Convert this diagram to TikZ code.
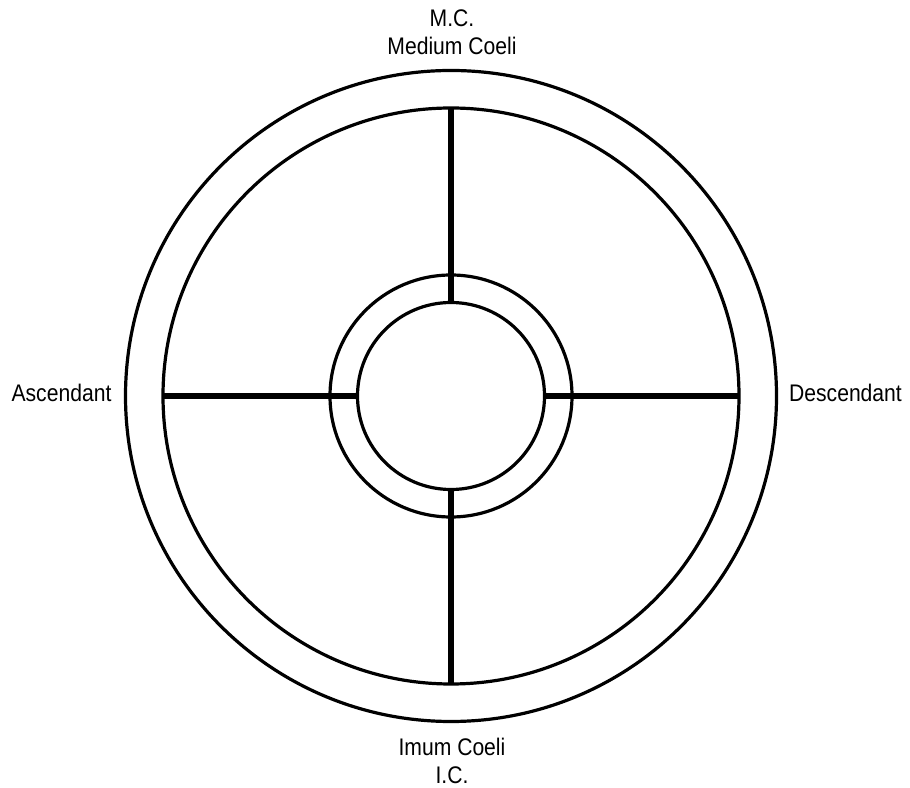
\documentclass[tikz,border=0pt]{standalone}
\usepackage{fontspec}
\setmainfont{Liberation Sans}[FakeStretch=0.88]
\usetikzlibrary{calc}
\begin{document}
\begin{tikzpicture}[x=1pt,y=1pt,
  ring/.style={line width=3.2pt},
  spoke/.style={line width=5.5pt},
  lbl/.style={anchor=base,inner sep=0pt,font=\fontsize{24}{28}\selectfont}]
\useasboundingbox (0,0) rectangle (910,787);
\coordinate (O) at (451,391);
\draw[ring] (O) circle (325.5);
\draw[ring] (O) circle (288);
\draw[ring] (O) circle (121);
\draw[ring] (O) circle (93.5);
\draw[spoke] ($(O)+(0,288)$) -- ($(O)+(0,93.5)$);
\draw[spoke] ($(O)+(0,-288)$) -- ($(O)+(0,-93.5)$);
\draw[spoke] ($(O)+(-288,0)$) -- ($(O)+(-93.5,0)$);
\draw[spoke] ($(O)+(288,0)$) -- ($(O)+(93.5,0)$);
\node[lbl] (mc) at (452,760) {M.C.};
\node[lbl] (mcl) at (452,732) {Medium Coeli};
\node[lbl] (icl) at (452,31) {Imum Coeli};
\node[lbl] (ic) at (452,4) {I.C.};
\node[lbl] (asc) at (61.5,385) {Ascendant};
\node[lbl] (desc) at (845.5,385) {Descendant};
\end{tikzpicture}
\end{document}
